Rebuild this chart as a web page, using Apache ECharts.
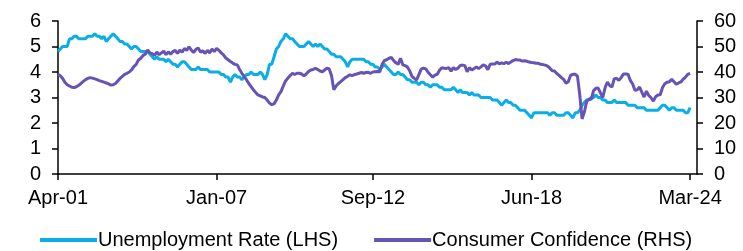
<!DOCTYPE html>
<html>
<head>
<meta charset="utf-8">
<script src="https://cdn.jsdelivr.net/npm/echarts@6/dist/echarts.min.js"></script>
<style>html,body{margin:0;padding:0;background:#fff}#c{width:743px;height:251px}</style>
</head>
<body>
<div id="c"></div>
<script>
// Monthly, Apr-2001 .. Mar-2024
const startYear = 2001, startMonth = 3; // April (0-based)
const padMonths = 3; // empty months after last point (axis runs slightly past Mar-24)
const tickLabels = ['Apr-01', 'Jan-07', 'Sep-12', 'Jun-18', 'Mar-24'];
const legendNames = ['Unemployment Rate (LHS)', 'Consumer Confidence (RHS)'];
const leftTicks = [0, 1, 2, 3, 4, 5, 6];
const rightTicks = [0, 10, 20, 30, 40, 50, 60];

const unemployment = [
  // 2001 Apr-Dec
  4.8, 4.9, 5.0, 5.0, 5.0, 5.3, 5.3, 5.4, 5.4,
  // 2002
  5.3, 5.3, 5.3, 5.3, 5.4, 5.4, 5.4, 5.5, 5.4, 5.4, 5.3, 5.4,
  // 2003
  5.2, 5.3, 5.4, 5.5, 5.4, 5.3, 5.2, 5.2, 5.1, 5.1, 5.0, 4.9,
  // 2004
  5.0, 5.0, 4.9, 4.8, 4.8, 4.8, 4.8, 4.7, 4.6, 4.5, 4.6, 4.5,
  // 2005
  4.5, 4.5, 4.4, 4.5, 4.4, 4.3, 4.3, 4.2, 4.3, 4.4, 4.4, 4.3,
  // 2006
  4.2, 4.1, 4.1, 4.1, 4.2, 4.1, 4.1, 4.1, 4.1, 4.0, 4.0, 4.0,
  // 2007
  4.0, 4.0, 3.9, 3.9, 3.8, 3.8, 3.6, 3.8, 3.9, 3.8, 3.8, 3.7,
  // 2008
  3.8, 3.9, 3.9, 4.0, 3.9, 3.9, 3.9, 4.0, 3.9, 3.7, 3.9, 4.3,
  // 2009
  4.3, 4.6, 4.9, 5.0, 5.2, 5.3, 5.5, 5.4, 5.3, 5.3, 5.2, 5.1,
  // 2010
  5.0, 5.0, 5.0, 5.1, 5.2, 5.1, 5.0, 5.1, 5.0, 5.1, 5.0, 4.9,
  // 2011
  4.9, 4.8, 4.7, 4.7, 4.6, 4.6, 4.6, 4.5, 4.4, 4.2, 4.4, 4.5,
  // 2012
  4.5, 4.5, 4.5, 4.5, 4.5, 4.4, 4.4, 4.3, 4.3, 4.2, 4.2, 4.1,
  // 2013
  4.2, 4.3, 4.2, 4.1, 4.0, 3.9, 3.9, 4.0, 3.9, 3.9, 3.8, 3.7,
  // 2014
  3.7, 3.6, 3.6, 3.6, 3.5, 3.6, 3.6, 3.5, 3.5, 3.4, 3.5, 3.5,
  // 2015
  3.5, 3.4, 3.4, 3.3, 3.3, 3.3, 3.3, 3.4, 3.3, 3.2, 3.3, 3.2,
  // 2016
  3.2, 3.2, 3.1, 3.2, 3.1, 3.1, 3.1, 3.0, 3.0, 3.0, 3.0, 3.0,
  // 2017
  2.9, 2.9, 2.9, 2.8, 2.7, 2.8, 2.9, 2.8, 2.8, 2.7, 2.7, 2.6,
  // 2018
  2.5, 2.5, 2.5, 2.4, 2.3, 2.2, 2.4, 2.4, 2.4, 2.4, 2.4, 2.4,
  // 2019
  2.4, 2.3, 2.4, 2.4, 2.3, 2.3, 2.3, 2.3, 2.4, 2.4, 2.3, 2.2,
  // 2020
  2.4, 2.4, 2.5, 2.7, 2.8, 2.9, 2.9, 3.0, 3.0, 3.1, 3.0, 3.0,
  // 2021
  2.9, 2.9, 2.8, 2.8, 2.8, 2.9, 2.8, 2.8, 2.8, 2.8, 2.8, 2.7,
  // 2022
  2.7, 2.7, 2.7, 2.6, 2.6, 2.6, 2.6, 2.5, 2.5, 2.5, 2.5, 2.5,
  // 2023
  2.5, 2.6, 2.7, 2.7, 2.6, 2.5, 2.6, 2.6, 2.5, 2.5, 2.5, 2.5,
  // 2024 Jan-Mar
  2.4, 2.4, 2.6
];

const consumerConfidence = [
  // 2001 Apr-Dec
  39.1, 38.5, 37.5, 36.0, 35.0, 34.5, 34.0, 33.9, 34.2,
  // 2002
  34.8, 35.5, 36.3, 37.0, 37.5, 37.8, 37.6, 37.3, 37.0, 36.6, 36.3, 36.0,
  // 2003
  35.7, 35.3, 34.9, 35.0, 35.5, 36.5, 37.5, 38.3, 39.1, 39.5, 40.0, 40.8,
  // 2004
  42.1, 43.0, 44.7, 45.4, 46.5, 47.0, 48.6, 47.5, 47.2, 46.5, 47.8, 46.8,
  // 2005
  47.5, 48.2, 46.8, 47.9, 47.0, 48.0, 48.5, 47.3, 48.6, 47.8, 49.2, 48.5,
  // 2006
  49.9, 48.6, 47.6, 48.9, 49.4, 47.8, 48.3, 47.3, 48.5, 47.5, 49.0, 48.0,
  // 2007
  49.3, 48.5, 47.5, 46.7, 45.5, 44.8, 44.1, 43.5, 43.0, 42.8, 41.0, 39.5,
  // 2008
  38.2, 37.0, 35.5, 34.3, 33.0, 32.0, 31.0, 30.6, 30.2, 30.0, 29.0, 27.8,
  // 2009
  27.2, 27.5, 29.0, 31.0, 32.3, 34.5, 36.5, 37.6, 38.6, 39.5, 39.0, 39.5,
  // 2010
  39.5, 39.2, 38.5, 39.2, 40.2, 40.8, 41.0, 41.4, 41.0, 40.4, 40.1, 40.8,
  // 2011
  41.5, 41.2, 38.5, 33.0, 34.5, 35.5, 36.2, 37.0, 37.8, 38.3, 38.9, 38.6,
  // 2012
  39.0, 39.2, 39.5, 39.8, 39.5, 39.8, 39.9, 39.5, 40.0, 40.1, 40.2, 40.1,
  // 2013
  43.0, 44.5, 44.8, 45.4, 45.7, 44.5, 43.6, 43.0, 45.4, 42.8, 42.5, 42.0,
  // 2014
  40.5, 38.3, 37.5, 36.9, 39.0, 41.1, 41.5, 41.2, 39.9, 38.9, 38.0, 38.8,
  // 2015
  39.1, 40.7, 41.7, 41.5, 41.4, 41.7, 40.3, 41.7, 41.0, 41.5, 42.6, 42.7,
  // 2016
  42.5, 40.1, 41.7, 40.8, 41.3, 42.0, 41.3, 42.0, 42.8, 42.4, 40.9, 43.0,
  // 2017
  43.1, 43.1, 43.9, 43.2, 43.6, 43.3, 43.8, 43.3, 43.9, 44.5, 44.9, 44.7,
  // 2018
  44.7, 44.3, 44.4, 44.2, 43.9, 43.7, 43.6, 43.4, 43.4, 43.0, 42.9, 42.7,
  // 2019
  42.3, 41.5, 40.5, 40.4, 39.4, 38.7, 37.8, 37.1, 35.6, 36.2, 38.7, 39.1,
  // 2020
  39.1, 38.4, 31.0, 21.6, 24.3, 28.5, 29.4, 29.3, 32.7, 33.6, 33.7, 31.8,
  // 2021
  30.0, 33.8, 36.1, 34.7, 34.1, 37.4, 37.5, 36.7, 37.8, 39.2, 39.2, 39.1,
  // 2022
  36.7, 35.3, 32.8, 33.0, 34.1, 32.1, 30.2, 32.5, 30.8, 29.9, 28.6, 30.3,
  // 2023
  31.0, 31.1, 33.9, 35.4, 36.0, 36.2, 37.1, 36.2, 35.2, 35.7, 36.1, 37.2,
  // 2024 Jan-Mar
  38.0, 39.1, 39.5
];

const monthAbbr = ['Jan','Feb','Mar','Apr','May','Jun','Jul','Aug','Sep','Oct','Nov','Dec'];
const categories = [];
for (let i = 0; i < unemployment.length + padMonths; i++) {
  const m = (startMonth + i) % 12;
  const y = startYear + Math.floor((startMonth + i) / 12);
  categories.push(monthAbbr[m] + '-' + String(y % 100).padStart(2, '0'));
}

const FONT = 'Liberation Sans, Arial, sans-serif';
const FS = 20;
const chart = echarts.init(document.getElementById('c'), null, {renderer: 'canvas'});
const isTick = (idx, val) => tickLabels.indexOf(val) >= 0;
chart.setOption({
  animation: false,
  backgroundColor: '#fff',
  grid: {left: 58, right: 46, top: 21, bottom: 77, containLabel: false},
  legend: {
    bottom: 1, left: 40, padding: 0,
    icon: 'rect', itemWidth: 57, itemHeight: 4, itemGap: 36,
    textStyle: {fontFamily: FONT, fontSize: FS, color: '#000', padding: [0, 0, 0, -4]},
    data: legendNames
  },
  xAxis: {
    type: 'category', boundaryGap: false, data: categories,
    axisLine: {lineStyle: {color: '#000', width: 1.5}},
    axisTick: {interval: isTick, length: 6, lineStyle: {color: '#000', width: 1.5}},
    axisLabel: {interval: isTick, fontFamily: FONT, fontSize: FS, color: '#000', margin: 14},
    splitLine: {show: false}
  },
  yAxis: [
    {
      type: 'value', min: leftTicks[0], max: leftTicks[leftTicks.length - 1], interval: 1,
      axisLine: {show: true, lineStyle: {color: '#000', width: 1.5}},
      axisTick: {show: true, length: 6, lineStyle: {color: '#000', width: 1.5}},
      axisLabel: {fontFamily: FONT, fontSize: FS, color: '#000', margin: 17},
      splitLine: {show: false}
    },
    {
      type: 'value', min: rightTicks[0], max: rightTicks[rightTicks.length - 1], interval: 10,
      position: 'right',
      axisLine: {show: true, lineStyle: {color: '#000', width: 1.5}},
      axisTick: {show: true, length: 6, lineStyle: {color: '#000', width: 1.5}},
      axisLabel: {fontFamily: FONT, fontSize: FS, color: '#000', margin: 17},
      splitLine: {show: false}
    }
  ],
  series: [
    {
      name: legendNames[0], type: 'line', yAxisIndex: 0, data: unemployment,
      showSymbol: false, symbol: 'none',
      lineStyle: {color: '#0AAEE6', width: 3}, itemStyle: {color: '#0AAEE6'}, z: 2
    },
    {
      name: legendNames[1], type: 'line', yAxisIndex: 1, data: consumerConfidence,
      showSymbol: false, symbol: 'none',
      lineStyle: {color: '#6753B5', width: 3}, itemStyle: {color: '#6753B5'}, z: 3
    }
  ]
});
</script>
</body>
</html>
